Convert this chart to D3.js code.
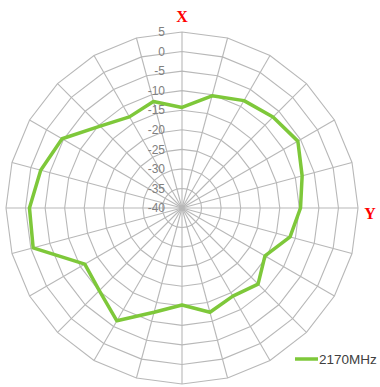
<!DOCTYPE html>
<html><head><meta charset="utf-8">
<script src="https://cdn.jsdelivr.net/npm/d3@7"></script>
<style>body{margin:0;background:#fff}svg{display:block}</style>
</head><body>
<svg id="c" width="380" height="387"></svg>
<script>
const categories = d3.range(0, 360, 15); // angles in degrees, clockwise from top
const values2170 = [-14.3,-10.3,-8.3,-7.1,-5.8,-8.2,-9.7,-11.4,-15.5,-12.5,-14,-12.4,
                    -15.2,-12.4,-6.7,-10.1,-11.3,-0.6,-1,-2.6,-4.6,-10.4,-13.1,-11.8];
const tickValues = [-40,-35,-30,-25,-20,-15,-10,-5,0,5];
const seriesName = "2170MHz";

const svg = d3.select("#c");
const cx = 182, cy = 208, R = 176;
const r = d3.scaleLinear().domain([-40, 5]).range([0, R]);
const ang = d3.scaleLinear().domain([0, 360]).range([0, 2 * Math.PI]);
const pt = (a, v) => [cx + r(v) * Math.sin(ang(a)), cy - r(v) * Math.cos(ang(a))];

const g = svg.append("g");
// rings
tickValues.filter(t => t > -40).forEach(t => {
  g.append("path")
    .attr("d", d3.line()(categories.map(a => pt(a, t))) + "Z")
    .attr("fill", "none").attr("stroke", "#b8b8b8").attr("stroke-width", 1.1);
});
// spokes
categories.forEach(a => {
  const p = pt(a, 5);
  g.append("line").attr("x1", cx).attr("y1", cy).attr("x2", p[0]).attr("y2", p[1])
    .attr("stroke", "#b8b8b8").attr("stroke-width", 1.1);
});
// tick labels
g.selectAll("text.tick").data(tickValues).enter().append("text")
  .attr("x", cx - 17).attr("y", d => cy - r(d))
  .attr("text-anchor", "end").attr("dy", "0.35em")
  .attr("font-family", "Liberation Sans, Arial, sans-serif").attr("font-size", 12)
  .attr("fill", "#808080").text(d => d);

// series
const line = d3.line();
svg.append("path")
  .attr("d", line(categories.map((a, i) => pt(a, values2170[i]))) + "Z")
  .attr("fill", "none").attr("stroke", "#7ec83a").attr("stroke-width", 3.5)
  .attr("stroke-linejoin", "round");

// axis titles
svg.append("text").attr("x", cx).attr("y", 22).attr("text-anchor", "middle")
  .attr("font-family", "Liberation Serif, Times New Roman, serif").attr("font-weight", "bold")
  .attr("font-size", 16).attr("fill", "#ff0000").text("X");
svg.append("text").attr("x", 370).attr("y", 219).attr("text-anchor", "middle")
  .attr("font-family", "Liberation Serif, Times New Roman, serif").attr("font-weight", "bold")
  .attr("font-size", 16).attr("fill", "#ff0000").text("Y");

// legend
svg.append("line").attr("x1", 295).attr("x2", 318).attr("y1", 359).attr("y2", 359)
  .attr("stroke", "#7ec83a").attr("stroke-width", 3.5);
svg.append("text").attr("x", 319).attr("y", 359).attr("dy", "0.35em")
  .attr("font-family", "Liberation Sans, Arial, sans-serif").attr("font-size", 13.5)
  .attr("fill", "#404040").text(seriesName);
</script>
</body></html>
